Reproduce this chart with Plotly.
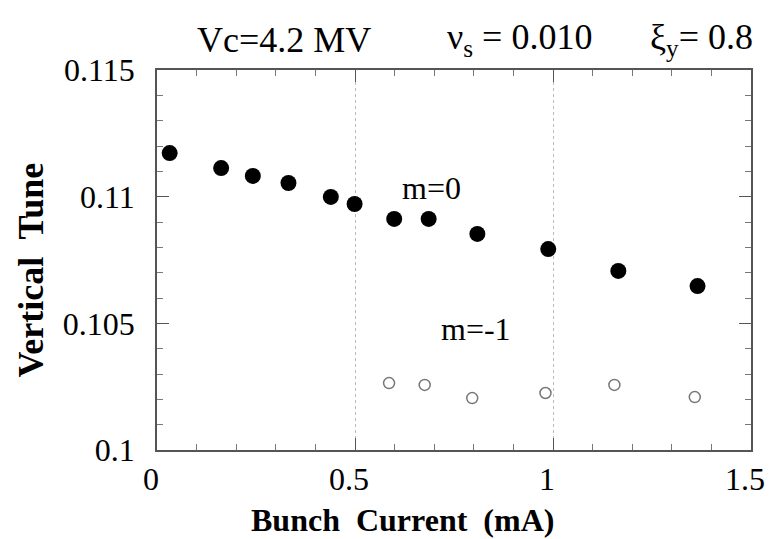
import plotly.graph_objects as go

# m=0 (filled) data
m0_current = [0.032, 0.162, 0.242, 0.332, 0.439, 0.499, 0.599, 0.686, 0.809, 0.988, 1.165, 1.365]
m0_tune = [0.11172, 0.11113, 0.11082, 0.11054, 0.10999, 0.10971, 0.10912, 0.10912, 0.10853, 0.10793, 0.10707, 0.10647]

# m=-1 (open) data
m1_current = [0.586, 0.676, 0.796, 0.981, 1.155, 1.358]
m1_tune = [0.10264, 0.10257, 0.10205, 0.10225, 0.10257, 0.10209]

x_ticks = [0, 0.5, 1, 1.5]
x_ticklabels = ["0", "0.5", "1", "1.5"]
y_ticks = [0.1, 0.105, 0.11, 0.115]
y_ticklabels = ["0.1", "0.105", "0.11", "0.115"]

FONT = "Liberation Serif"
L, R, T, B = 157, 758, 70, 450

def px(xp):
    return (xp - L) / (R - L)

def py(yp):
    return 1 - (yp - T) / (B - T)

fig = go.Figure()
fig.add_trace(go.Scatter(x=m0_current, y=m0_tune, mode="markers",
                         marker=dict(size=16, color="black"), showlegend=False))
fig.add_trace(go.Scatter(x=m1_current, y=m1_tune, mode="markers",
                         marker=dict(size=11, color="rgba(0,0,0,0)",
                                     line=dict(color="#777777", width=1.5)),
                         showlegend=False))

axis_common = dict(showline=True, linecolor="#555555", linewidth=1.5, mirror="ticks",
                   ticks="inside", tickcolor="#555555", zeroline=False,
                   ticklabeloverflow="allow",
                   tickfont=dict(family=FONT, size=32, color="black"))

fig.update_xaxes(range=[0, 1.5], tickvals=x_ticks, ticktext=x_ticklabels, ticklen=12,
                 ticklabelstandoff=0, ticklabelshift=-6,
                 showgrid=True, gridcolor="#bbbbbb", griddash="dot", gridwidth=1,
                 minor=dict(dtick=0.1, ticks="inside", ticklen=6, tickcolor="#777777", showgrid=False),
                 **axis_common)
fig.update_yaxes(range=[0.1, 0.115], tickvals=y_ticks, ticktext=y_ticklabels, ticklen=12,
                 ticklabelstandoff=14, showgrid=False,
                 minor=dict(dtick=0.001, tick0=0.1, ticks="inside", ticklen=6, tickcolor="#777777", showgrid=False),
                 **axis_common)

# axis titles as annotations
fig.add_annotation(x=px(405), y=py(520), xref="paper", yref="paper",
                   text="<b>Bunch  Current  (mA)</b>", showarrow=False,
                   font=dict(family=FONT, size=32, color="black"), xanchor="center", yanchor="middle")
fig.add_annotation(x=px(30), y=py(270), xref="paper", yref="paper", textangle=-90,
                   text="<b>Vertical  Tune</b>", showarrow=False,
                   font=dict(family=FONT, size=36, color="black"), xanchor="center", yanchor="middle")

ann_font = dict(family=FONT, size=36, color="black")
annots = [
    ("Vc=4.2 MV", 285, 40),
    ("ν<sub>s</sub> = 0.010", 524, 40),
    ("ξ<sub>y</sub>= 0.8", 708, 40),
]
for txt, xp, yp in annots:
    fig.add_annotation(x=px(xp), y=py(yp), xref="paper", yref="paper",
                       text=txt, showarrow=False, font=ann_font, xanchor="center", yanchor="middle")

fig.add_annotation(x=px(435), y=py(168), xref="paper", yref="paper",
                   text="m=0", showarrow=False, font=dict(family=FONT, size=32, color="black"))
fig.add_annotation(x=px(480), y=py(349), xref="paper", yref="paper",
                   text="m=-1", showarrow=False, font=dict(family=FONT, size=32, color="black"))

fig.update_layout(width=777, height=539, margin=dict(l=L, r=777 - R, t=T, b=539 - B),
                  paper_bgcolor="white", plot_bgcolor="white")

fig.write_html("out.html")
